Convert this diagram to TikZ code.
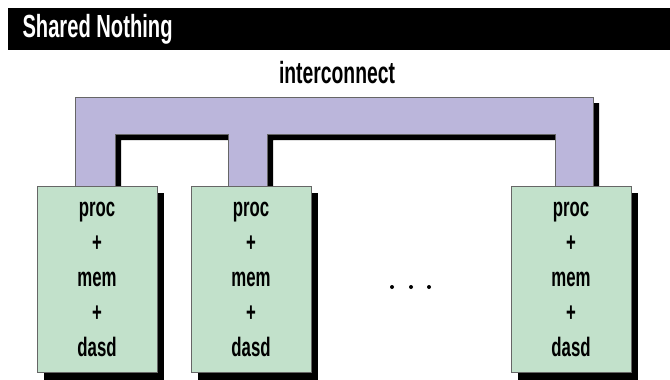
\documentclass[tikz,border=0pt]{standalone}
\usepackage{fontspec}
\setmainfont{Liberation Sans}[UprightFont={* Bold}, FakeStretch=0.63]
\usetikzlibrary{shadows}

\definecolor{buscolor}{RGB}{187,182,219}
\definecolor{nodecolor}{RGB}{194,225,203}

\tikzset{every picture/.style={line width=0.75pt}}
\tikzset{
  unit/.style={draw=black!60, line width=0.6pt, fill=nodecolor,
    minimum width=90pt, minimum height=140pt, align=center,
    font=\fontsize{20}{26.3}\selectfont,
    drop shadow={shadow xshift=5.5pt, shadow yshift=-5pt, fill=black, opacity=1}},
}

\begin{document}
\begin{tikzpicture}[x=0.75pt,y=0.75pt,yscale=-1]
\useasboundingbox (0,0) rectangle (670,379);

% title bar
\fill [black] (8,8) rectangle (670,50);
\draw (22,29) node [anchor=west, inner sep=0pt, text=white, font=\fontsize{24}{28}\selectfont] (title) {Shared Nothing};

% interconnect, shadow first
\fill [black, shift={(6,6)}] (75,97) -- (593,97) -- (593,186) -- (555,186) -- (555,134) -- (267,134) -- (267,186) -- (228,186) -- (228,134) -- (115,134) -- (115,186) -- (75,186) -- cycle ;
\draw [draw=black!60, line width=0.6pt, fill=buscolor] (75,97) -- (593,97) -- (593,186) -- (555,186) -- (555,134) -- (267,134) -- (267,186) -- (228,186) -- (228,134) -- (115,134) -- (115,186) -- (75,186) -- cycle ;
\draw (337,73) node [font=\fontsize{23}{26}\selectfont] (bus) {interconnect};

% processing units
\draw (97,279.5) node [unit] (unit1) {proc\\+\\mem\\+\\dasd};
\draw (251,279.5) node [unit] (unit2) {proc\\+\\mem\\+\\dasd};
\draw (571,279.5) node [unit] (unitn) {proc\\+\\mem\\+\\dasd};

\fill (392,287) circle (2) (411,287) circle (2) (429,287) circle (2);

\end{tikzpicture}
\end{document}
